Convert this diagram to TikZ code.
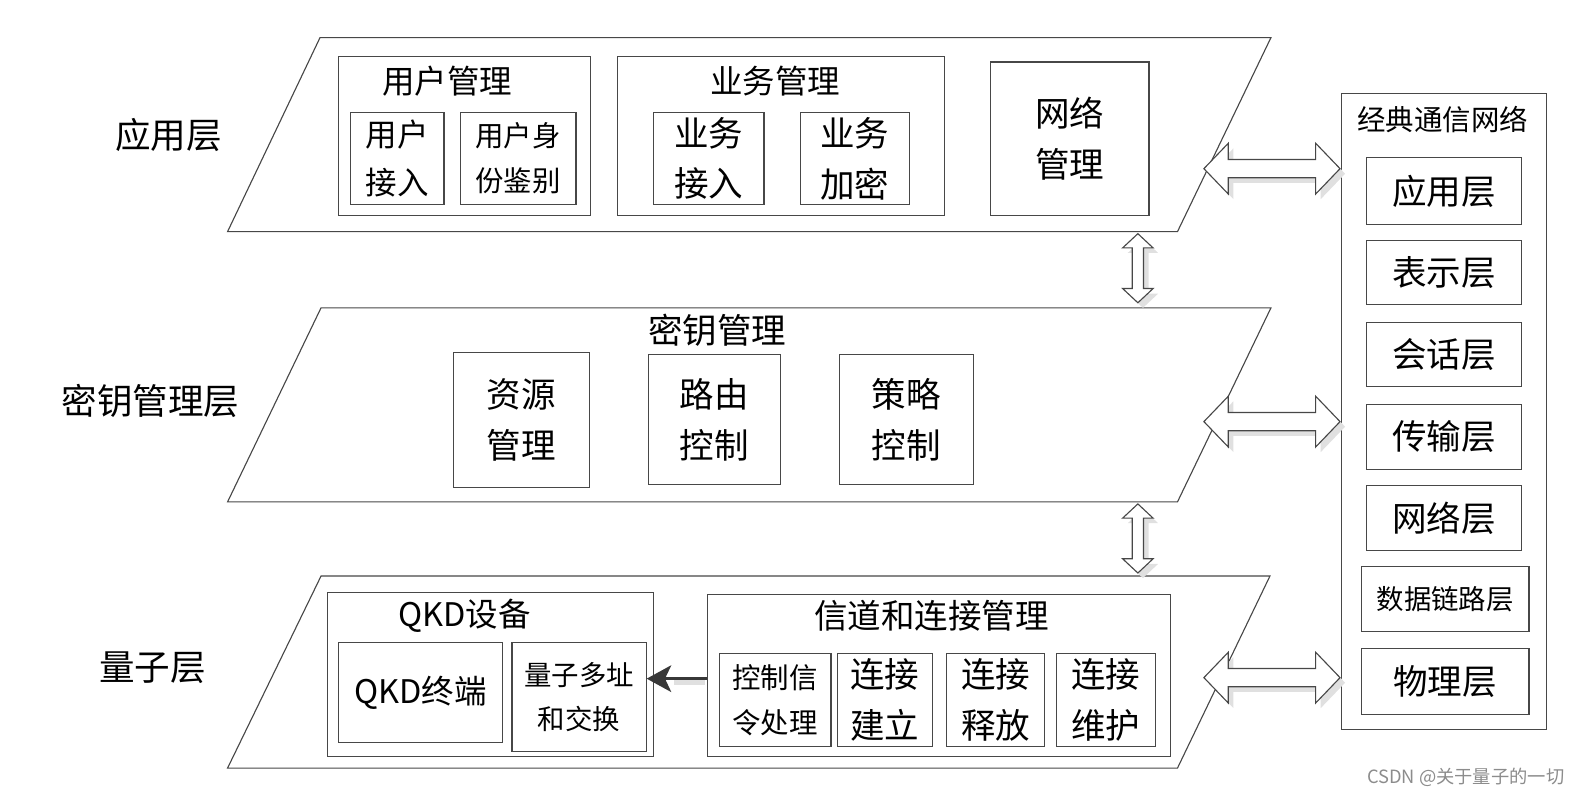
\documentclass[tikz,border=0pt]{standalone}
\usepackage{fontspec}
\setmainfont{Noto Sans CJK SC}
\usetikzlibrary{arrows.meta}
\newcommand\fs[2]{\fontsize{#1}{#2}\selectfont}
\newcommand\hdarr[3]{%
  \begin{scope}[shift={(#1,#2)}]
    \fill[black!12,shift={(5,5)}] (0,0) -- (24,-25) -- (24,-9) -- (#3-24,-9) -- (#3-24,-25) -- (#3,0) -- (#3-24,25) -- (#3-24,9) -- (24,9) -- (24,25) -- cycle;
    \draw[ln,fill=white] (0,0) -- (24,-25) -- (24,-9) -- (#3-24,-9) -- (#3-24,-25) -- (#3,0) -- (#3-24,25) -- (#3-24,9) -- (24,9) -- (24,25) -- cycle;
  \end{scope}}
\newcommand\vdarr[3]{%
  \begin{scope}[shift={(#1,#2)}]
    \fill[black!12,shift={(5,5)}] (0,0) -- (-15,14) -- (-5.5,14) -- (-5.5,#3-14) -- (-15,#3-14) -- (0,#3) -- (15,#3-14) -- (5.5,#3-14) -- (5.5,14) -- (15,14) -- cycle;
    \draw[ln,fill=white] (0,0) -- (-15,14) -- (-5.5,14) -- (-5.5,#3-14) -- (-15,#3-14) -- (0,#3) -- (15,#3-14) -- (5.5,#3-14) -- (5.5,14) -- (15,14) -- cycle;
  \end{scope}}
\begin{document}
\begin{tikzpicture}[x=1pt,y=-1pt,
  ln/.style={draw=black!72,line width=1.1pt},
  bx/.style={ln,rectangle,inner sep=0pt,align=center},
  txt/.style={inner sep=0pt,align=center},
  big/.style={font=\fs{34}{50}},
  mid/.style={font=\fs{28}{44}}]
\useasboundingbox (0,0) rectangle (1568,782);
% layers
\draw[ln,fill=white] (315,37) -- (1251,37) -- (1159,228) -- (224,228) -- cycle;
\draw[ln,fill=white] (316,303) -- (1251,303) -- (1159,494) -- (224,494) -- cycle;
\draw[ln,fill=white] (316,567) -- (1250,567) -- (1159,756) -- (224,756) -- cycle;
% layer labels
\node[txt,font=\fs{35}{40}] (lA) at (166,133) {应用层};
\node[txt,font=\fs{35}{40}] (lK) at (148,395) {密钥管理层};
\node[txt,font=\fs{35}{40}] (lQ) at (150,657) {量子层};
% application layer
\node[bx,minimum width=248,minimum height=156] (um) at (457,134) {};
\node[txt,font=\fs{32}{40}] (umt) at (440,80) {用户管理};
\node[bx,minimum width=92,minimum height=90,font=\fs{31}{48}] (ua) at (391,156) {用户\\接入};
\node[bx,minimum width=114,minimum height=90,mid] (uid) at (510,156) {用户身\\份鉴别};
\node[bx,minimum width=322,minimum height=156] (bm) at (769,134) {};
\node[txt,font=\fs{32}{40}] (bmt) at (763,80) {业务管理};
\node[bx,minimum width=109,minimum height=90,big] (ba) at (697.5,156) {业务\\接入};
\node[bx,minimum width=107,minimum height=90,big] (be) at (841.5,156) {业务\\加密};
\node[bx,minimum width=156,minimum height=151,big] (nm) at (1053,136.5) {网络\\管理};
% key management layer
\node[txt,font=\fs{34}{40}] (kmt) at (706,325) {密钥管理};
\node[bx,minimum width=134,minimum height=133,big] (rm) at (513,413.5) {资源\\管理};
\node[bx,minimum width=130,minimum height=128,big] (rc) at (703,413) {路由\\控制};
\node[bx,minimum width=132,minimum height=128,big] (pc) at (892,413) {策略\\控制};
% quantum layer
\node[bx,minimum width=321,minimum height=162] (qd) at (482.5,664) {};
\node[txt,font=\fs{32}{40}] (qdt) at (457,606) {QKD设备};
\node[bx,minimum width=162,minimum height=99,font=\fs{32}{40}] (qt) at (414,681.5) {QKD终端};
\node[bx,minimum width=132,minimum height=108,font=\fs{27}{43}] (qx) at (570,686) {量子多址\\和交换};
\node[bx,minimum width=456,minimum height=160] (ch) at (924,665) {};
\node[txt,font=\fs{33}{40}] (cht) at (917,606) {信道和连接管理};
\node[bx,minimum width=110,minimum height=92,mid] (cs) at (763,689) {控制信\\令处理};
\node[bx,minimum width=94,minimum height=92,big] (ce) at (871,689) {连接\\建立};
\node[bx,minimum width=96,minimum height=92,big] (cr) at (980,689) {连接\\释放};
\node[bx,minimum width=97,minimum height=92,big] (cm) at (1088.5,689) {连接\\维护};
\fill[black!12] (ch.west |- 0,674) ++(-2,0) -- ++(-30,0) -- ++(0,-7) -- ++(30,0) -- cycle;
\draw[draw=black!78,line width=3.6pt,-{Stealth[length=24pt,width=26pt,inset=6pt]}] (ch.west |- 0,668) -- (qx.east |- 0,668);
% classical network
\node[bx,minimum width=202,minimum height=626] (cn) at (1421,405) {};
\node[txt,font=\fs{28}{34}] (cnt) at (1420,118) {经典通信网络};
\node[bx,minimum width=153,minimum height=66,font=\fs{34}{40}] (n1) at (1421.5,188) {应用层};
\node[bx,minimum width=153,minimum height=63,font=\fs{34}{40}] (n2) at (1421.5,268.5) {表示层};
\node[bx,minimum width=153,minimum height=63,font=\fs{34}{40}] (n3) at (1421.5,348.5) {会话层};
\node[bx,minimum width=153,minimum height=64,font=\fs{34}{40}] (n4) at (1421.5,430) {传输层};
\node[bx,minimum width=153,minimum height=64,font=\fs{34}{40}] (n5) at (1421.5,510) {网络层};
\node[bx,minimum width=165,minimum height=64,font=\fs{27}{34}] (n6) at (1422.5,590) {数据链路层};
\node[bx,minimum width=165,minimum height=65,font=\fs{34}{40}] (n7) at (1422.5,670.5) {物理层};
% double arrows
\hdarr{1185}{166}{134}
\hdarr{1185}{415}{134}
\hdarr{1185}{667}{134}
\vdarr{1120}{230}{68}
\vdarr{1120}{496}{68}
% watermark
\node[txt,anchor=east,text=black!45,font=\fs{18}{22}] (wm) at (1540,765) {CSDN @关于量子的一切};
\end{tikzpicture}
\end{document}
